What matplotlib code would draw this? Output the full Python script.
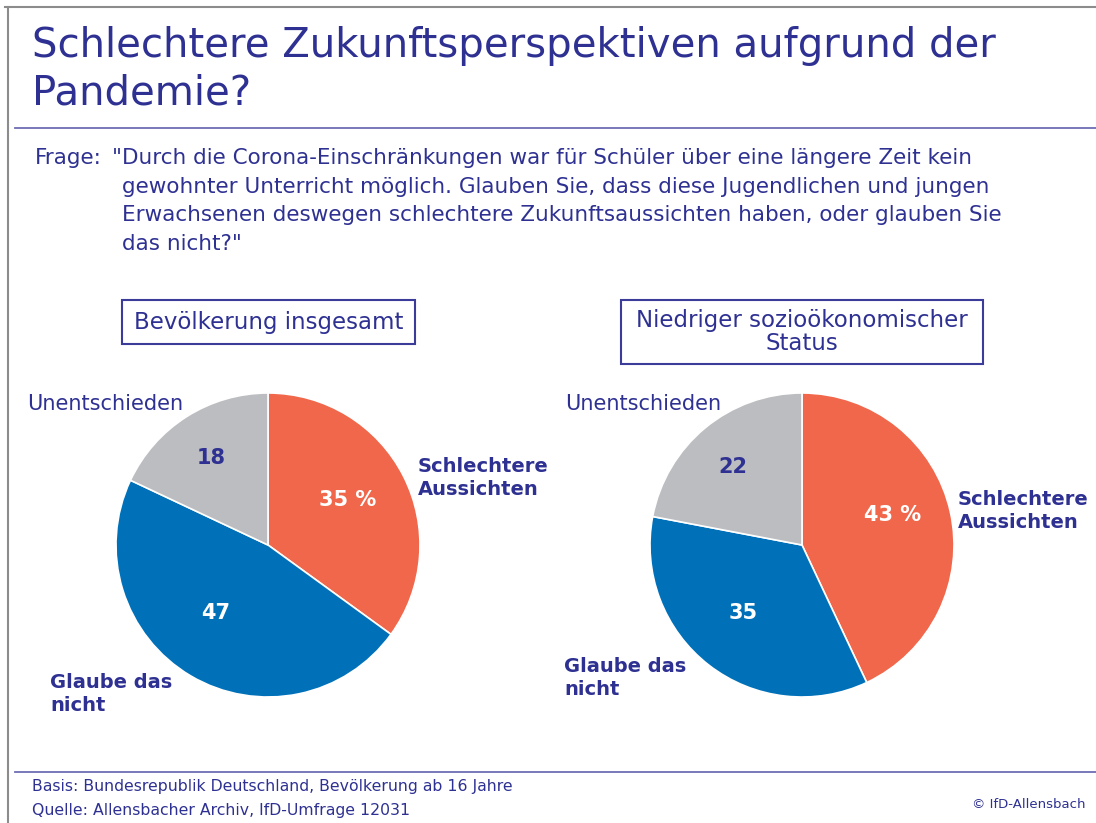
import matplotlib
matplotlib.use("Agg")
import matplotlib.pyplot as plt
from matplotlib.patches import Rectangle

# data
categories = ["Schlechtere Aussichten", "Glaube das nicht", "Unentschieden"]
values_total = [35, 47, 18]
values_low = [43, 35, 22]
panel_titles = ["Bevölkerung insgesamt", "Niedriger sozioökonomischer\nStatus"]

colors = ["#f0674b", "#0071b9", "#bcbdc0"]
NAVY = "#2e3192"
W, H = 1096, 823

plt.rcParams["font.family"] = ["DejaVu Sans"]

fig = plt.figure(figsize=(W / 100, H / 100), dpi=100)

# background axes in pixel coordinates for texts and rules
bg = fig.add_axes([0, 0, 1, 1])
bg.set_xlim(0, W)
bg.set_ylim(H, 0)
bg.axis("off")
bg.set_zorder(3)

# frame
bg.plot([5, W], [7, 7], color="#8c8c8c", lw=1.5)
bg.plot([8, 8], [7, H], color="#8c8c8c", lw=1.5)
bg.plot([15, W], [128, 128], color="#6d6db4", lw=1.3)
bg.plot([15, W], [772, 772], color="#6d6db4", lw=1.3)

# title
bg.text(32, 46, "Schlechtere Zukunftsperspektiven aufgrund der", fontsize=29,
        color=NAVY, va="center", ha="left")
bg.text(32, 93, "Pandemie?", fontsize=29, color=NAVY, va="center", ha="left")

# question
question = ['"Durch die Corona-Einschränkungen war für Schüler über eine längere Zeit kein',
            'gewohnter Unterricht möglich. Glauben Sie, dass diese Jugendlichen und jungen',
            'Erwachsenen deswegen schlechtere Zukunftsaussichten haben, oder glauben Sie',
            'das nicht?"']
bg.text(35, 158, "Frage:", fontsize=15.5, color=NAVY, va="center")
for i, line in enumerate(question):
    x = 112 if i == 0 else 122
    bg.text(x, 158 + i * 28.5, line, fontsize=15.5, color=NAVY, va="center")

# panel boxes
boxes = [(122, 300, 293, 44), (621, 300, 362, 64)]
for (bx, by, bw, bh), t in zip(boxes, panel_titles):
    bg.add_patch(Rectangle((bx, by), bw, bh, fill=False, ec="#3b3b9a", lw=1.5))
    bg.text(bx + bw / 2, by + bh / 2, t, fontsize=16.5, color=NAVY,
            ha="center", va="center", linespacing=1.0)

# pies
centers = [(268, 545), (802, 545)]
R = 152
value_pos = [[(348, 500), (216, 613), (211, 458)],
             [(893, 515), (743, 613), (733, 467)]]
cat_pos = [[(418, 478), (50, 694), (27, 404)],
           [(958, 511), (564, 678), (565, 404)]]

for (cx, cy), vals, vpos, cpos in zip(centers, [values_total, values_low], value_pos, cat_pos):
    ax = fig.add_axes([(cx - R) / W, (H - cy - R) / H, 2 * R / W, 2 * R / H])
    ax.pie(vals, colors=colors, startangle=90, counterclock=False,
           wedgeprops=dict(edgecolor="white", linewidth=1.2))
    ax.set_xlim(-1, 1)
    ax.set_ylim(-1, 1)
    ax.set_aspect("equal")

    for i, (v, (px, py)) in enumerate(zip(vals, vpos)):
        label = f"{v} %" if i == 0 else str(v)
        c = NAVY if i == 2 else "white"
        bg.text(px, py, label, fontsize=15, fontweight="bold", color=c,
                ha="center", va="center")

    labels = ["Schlechtere\nAussichten", "Glaube das\nnicht", "Unentschieden"]
    for i, (lab, (px, py)) in enumerate(zip(labels, cpos)):
        if i == 2:
            bg.text(px, py, lab, fontsize=15, color=NAVY, ha="left", va="center")
        else:
            bg.text(px, py, lab, fontsize=14, color=NAVY, ha="left", va="center",
                    fontweight="bold", linespacing=1.25)

# footer
bg.text(32, 787, "Basis: Bundesrepublik Deutschland, Bevölkerung ab 16 Jahre",
        fontsize=11.3, color=NAVY, va="center")
bg.text(32, 810, "Quelle: Allensbacher Archiv, IfD-Umfrage 12031",
        fontsize=11.3, color=NAVY, va="center")
bg.text(1085, 804, "© IfD-Allensbach", fontsize=9.5, color=NAVY,
        ha="right", va="center")

fig.savefig("out.png", dpi=100)
